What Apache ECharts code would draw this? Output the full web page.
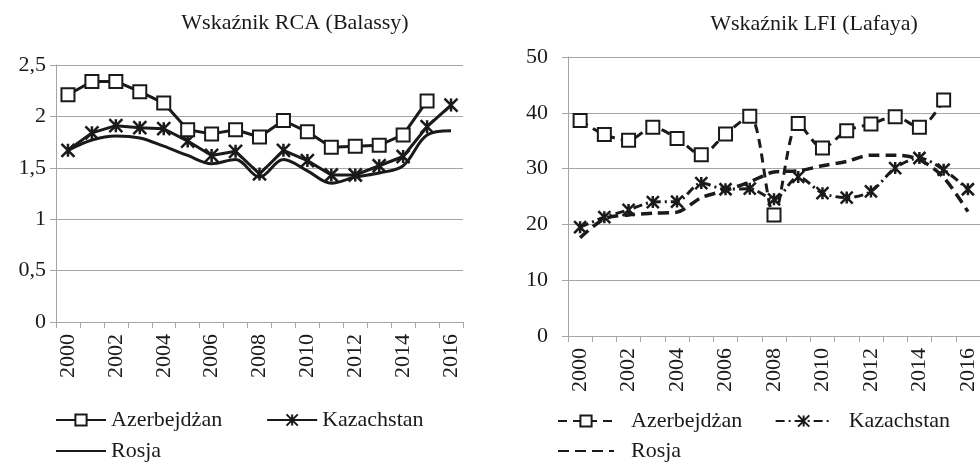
<!DOCTYPE html>
<html>
<head>
<meta charset="utf-8">
<script src="https://cdn.jsdelivr.net/npm/echarts@6/dist/echarts.min.js"></script>
<style>
  html, body { margin: 0; padding: 0; background: #fff; }
</style>
</head>
<body>
<div id="main" style="width: 980px; height: 462px"></div>
<script>
// lata 2000-2016
var years = ["2000", "2001", "2002", "2003", "2004", "2005", "2006", "2007", "2008",
  "2009", "2010", "2011", "2012", "2013", "2014", "2015", "2016"];

// Wskaźnik RCA (Balassy)
var rcaAzerbejdzan = [2.21, 2.34, 2.34, 2.24, 2.13, 1.87, 1.83, 1.87, 1.80,
  1.96, 1.85, 1.70, 1.71, 1.72, 1.82, 2.15, null];
var rcaKazachstan = [1.67, 1.84, 1.91, 1.89, 1.88, 1.76, 1.62, 1.66, 1.44,
  1.67, 1.57, 1.43, 1.43, 1.52, 1.61, 1.90, 2.11];
var rcaRosja = [1.67, 1.77, 1.81, 1.79, 1.71, 1.62, 1.54, 1.58, 1.41,
  1.58, 1.47, 1.35, 1.41, 1.45, 1.52, 1.82, 1.86];

// Wskaźnik LFI (Lafaya)
var lfiAzerbejdzan = [38.6, 36.1, 35.1, 37.4, 35.4, 32.5, 36.2, 39.4, 21.7,
  38.1, 33.7, 36.8, 38.0, 39.3, 37.4, 42.3, null];
var lfiKazachstan = [19.5, 21.3, 22.6, 24.0, 24.1, 27.4, 26.3, 26.4, 24.5,
  28.5, 25.6, 24.8, 25.9, 30.1, 31.9, 29.8, 26.3];
var lfiRosja = [17.6, 21.0, 21.7, 22.0, 22.2, 24.8, 26.1, 27.6, 29.4,
  29.6, 30.5, 31.3, 32.4, 32.4, 31.6, 28.4, 22.3];

var rcaTicks = [0, 0.5, 1, 1.5, 2, 2.5];
var lfiTicks = [0, 10, 20, 30, 40, 50];

var font = "Liberation Serif";
var ink = "#1a1a1a";
var gridGray = "#a6a6a6";
var starPath = "path://M0,0L10,10M10,0L0,10M5,0L5,10";

var myChart = echarts.init(document.getElementById("main"));

function xAxisFor(gridIndex) {
  return {
    type: "category",
    gridIndex: gridIndex,
    data: years,
    boundaryGap: true,
    axisLine: { lineStyle: { color: gridGray, width: 1 } },
    axisTick: { show: true, interval: 0, length: 6, lineStyle: { color: gridGray } },
    axisLabel: {
      interval: 1, rotate: 90, margin: 12,
      fontFamily: font, fontSize: 22, color: ink
    }
  };
}

function yAxisFor(gridIndex, ticks, margin, fmt) {
  return {
    type: "value",
    gridIndex: gridIndex,
    min: ticks[0],
    max: ticks[ticks.length - 1],
    interval: ticks[1] - ticks[0],
    axisLine: { show: true, lineStyle: { color: gridGray, width: 1 } },
    axisTick: { show: true, length: 6, lineStyle: { color: gridGray } },
    splitLine: { lineStyle: { color: gridGray, width: 1 } },
    axisLabel: {
      margin: margin, fontFamily: font, fontSize: 22, color: ink,
      formatter: fmt
    }
  };
}

var option = {
  animation: false,
  backgroundColor: "#fff",
  title: [
    {
      text: "Wskaźnik RCA (Balassy)", left: 290, top: 7, textAlign: "center",
      textStyle: { fontFamily: font, fontSize: 22, fontWeight: "normal", color: ink }
    },
    {
      text: "Wskaźnik LFI (Lafaya)", left: 809, top: 8, textAlign: "center",
      textStyle: { fontFamily: font, fontSize: 22, fontWeight: "normal", color: ink }
    }
  ],
  grid: [
    { left: 56, top: 65, width: 407, height: 257 },
    { left: 568, top: 57, width: 415, height: 279 }
  ],
  legend: [
    {
      data: ["Azerbejdżan", "Kazachstan"], left: 55, top: 409, padding: 0,
      itemWidth: 50, itemHeight: 14, itemGap: 44,
      textStyle: { fontFamily: font, fontSize: 22, color: ink }
    },
    {
      data: ["Rosja"], left: 55, top: 440, padding: 0,
      itemWidth: 50, itemHeight: 14,
      textStyle: { fontFamily: font, fontSize: 22, color: ink }
    },
    {
      data: ["Azerbejdżan ", "Kazachstan "], left: 557, top: 410, padding: 0,
      itemWidth: 56, itemHeight: 14, itemGap: 27,
      textStyle: { fontFamily: font, fontSize: 22, color: ink, padding: [0, 0, 0, 12] }
    },
    {
      data: ["Rosja "], left: 557, top: 440, padding: 0,
      itemWidth: 56, itemHeight: 14,
      textStyle: { fontFamily: font, fontSize: 22, color: ink, padding: [0, 0, 0, 12] }
    }
  ],
  xAxis: [xAxisFor(0), xAxisFor(1)],
  yAxis: [
    yAxisFor(0, rcaTicks, 10, function (v) { return String(v).replace(".", ","); }),
    yAxisFor(1, lfiTicks, 20, null)
  ],
  series: [
    {
      name: "Rosja", type: "line", xAxisIndex: 0, yAxisIndex: 0,
      data: rcaRosja, smooth: 0.35, symbol: "circle", showSymbol: false,
      itemStyle: { color: "rgba(0,0,0,0)", borderWidth: 0 },
      lineStyle: { color: ink, width: 3 }
    },
    {
      name: "Kazachstan", type: "line", xAxisIndex: 0, yAxisIndex: 0,
      data: rcaKazachstan, symbol: starPath, symbolSize: 13, showAllSymbol: true,
      itemStyle: { color: ink, borderColor: ink, borderWidth: 2.5 },
      lineStyle: { color: ink, width: 3 }
    },
    {
      name: "Azerbejdżan", type: "line", xAxisIndex: 0, yAxisIndex: 0,
      data: rcaAzerbejdzan, symbol: "rect", symbolSize: 13, showAllSymbol: true,
      itemStyle: { color: "#fff", borderColor: ink, borderWidth: 2 },
      lineStyle: { color: ink, width: 3 }
    },
    {
      name: "Rosja ", type: "line", xAxisIndex: 1, yAxisIndex: 1,
      data: lfiRosja, smooth: 0.3, symbol: "circle", showSymbol: false,
      itemStyle: { color: "rgba(0,0,0,0)", borderWidth: 0 },
      lineStyle: { color: ink, width: 3.5, type: [11, 6] }
    },
    {
      name: "Kazachstan ", type: "line", xAxisIndex: 1, yAxisIndex: 1,
      data: lfiKazachstan, smooth: 0.3, symbol: starPath, symbolSize: 12, showAllSymbol: true,
      itemStyle: { color: ink, borderColor: ink, borderWidth: 2.5 },
      lineStyle: { color: ink, width: 3, type: [9, 4, 2, 4] }
    },
    {
      name: "Azerbejdżan ", type: "line", xAxisIndex: 1, yAxisIndex: 1,
      data: lfiAzerbejdzan, smooth: 0.3, symbol: "rect", symbolSize: 13, showAllSymbol: true,
      itemStyle: { color: "#fff", borderColor: ink, borderWidth: 2 },
      lineStyle: { color: ink, width: 3, type: [9, 6] }
    }
  ]
};

myChart.setOption(option);
</script>
</body>
</html>
